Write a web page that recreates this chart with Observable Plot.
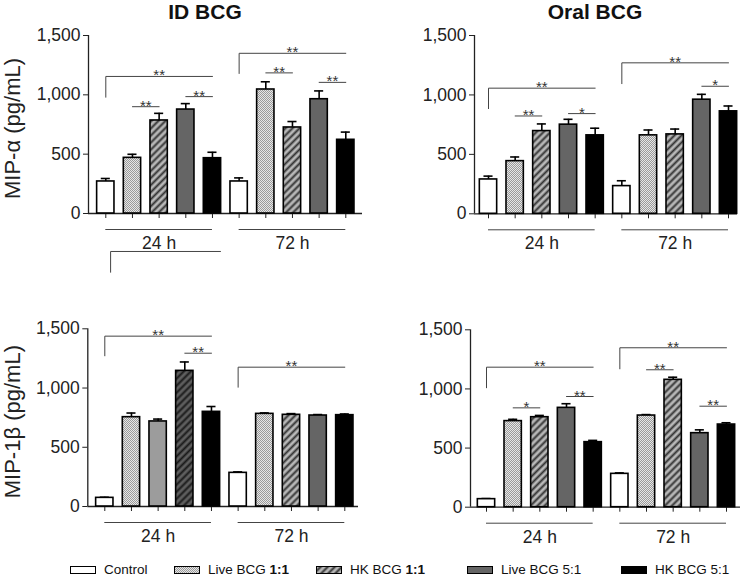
<!DOCTYPE html>
<html><head><meta charset="utf-8">
<script src="https://cdn.jsdelivr.net/npm/d3@7"></script>
<script src="https://cdn.jsdelivr.net/npm/@observablehq/plot@0.6"></script>
<style>
body{margin:0;background:#fff;}
#root{position:relative;width:750px;height:586px;overflow:hidden;font-family:"Liberation Sans",Arial,sans-serif;color:#222;background:#fff;}
.panel{position:absolute;}
.title{position:absolute;top:1px;font-weight:bold;font-size:21px;line-height:21px;transform:translateX(-50%);white-space:nowrap;color:#111;}
.leg{position:absolute;top:562px;display:flex;align-items:center;font-size:13.5px;line-height:16px;white-space:nowrap;color:#111;}
.sw{width:24px;height:6px;border:1.5px solid #000;margin-right:8px;}
</style></head>
<body><div id="root">
<svg width="0" height="0" style="position:absolute;left:0;top:0">
<defs>
<pattern id="dots" width="2" height="2" patternUnits="userSpaceOnUse"><rect width="2" height="2" fill="#e6e6e6"/><rect width="1" height="1" fill="#9a9a9a"/><rect x="1" y="1" width="1" height="1" fill="#9a9a9a"/></pattern>
<pattern id="hatch" width="5" height="5" patternUnits="userSpaceOnUse" patternTransform="rotate(45)"><rect width="5" height="5" fill="#b8b8b8"/><line x1="2.5" y1="0" x2="2.5" y2="5" stroke="#333" stroke-width="2"/></pattern>
<pattern id="hatchDark" width="5" height="5" patternUnits="userSpaceOnUse" patternTransform="rotate(45)"><rect width="5" height="5" fill="#5e5e5e"/><line x1="2.5" y1="0" x2="2.5" y2="5" stroke="#1a1a1a" stroke-width="2"/></pattern>
</defs></svg>
</div>
<script>
// ---------- data ----------
const conditions = ["Control", "Live BCG 1:1", "HK BCG 1:1", "Live BCG 5:1", "HK BCG 5:1"];
const times = ["24 h", "72 h"];
const yTicks = [0, 500, 1000, 1500];
const panelTitles = ["ID BCG", "Oral BCG"];
const yLabels = ["MIP-\u03b1 (pg/mL)", "MIP-1\u03b2 (pg/mL)"];

// bar order: 24 h (5 conditions) then 72 h (5 conditions)
const idAlphaMean   = [270, 469, 784, 876, 466, 270, 1045, 725, 963, 621];
const idAlphaErr    = [25, 30, 60, 50, 50, 30, 65, 50, 70, 65];
const oralAlphaMean = [289, 443, 696, 750, 660, 233, 660, 668, 960, 862];
const oralAlphaErr  = [28, 35, 60, 45, 60, 45, 45, 45, 45, 45];
const idBetaMean    = [73, 754, 718, 1145, 799, 284, 782, 774, 768, 771];
const idBetaErr     = [5, 35, 20, 75, 45, 8, 8, 10, 8, 10];
const oralBetaMean  = [68, 728, 761, 840, 550, 282, 775, 1077, 626, 699];
const oralBetaErr   = [5, 15, 15, 35, 15, 8, 8, 22, 28, 15];

// significance brackets: [from bar, to bar, bracket level, left leg end (or null), stars]
const idAlphaSig = [[0,4,1155,980,"**"],[1,2,900,null,"**"],[3,4,985,null,"**"],[5,9,1350,1180,"**"],[6,7,1185,null,"**"],[8,9,1105,null,"**"]];
const oralAlphaSig = [[0,4,1057,885,"**"],[1,2,823,null,"**"],[3,4,843,null,"*"],[5,9,1270,1095,"**"],[8,9,1073,null,"*"]];
const idBetaSig = [[0,4,1438,1272,"**"],[3,4,1294,null,"**"],[5,9,1176,1007,"**"]];
const oralBetaSig = [[0,4,1184,1010,"**"],[1,2,840,null,"*"],[3,4,936,null,"**"],[5,9,1348,1170,"**"],[6,7,1162,null,"**"],[8,9,854,null,"**"]];
// stray bracket drawn below the 24 h label in the first panel: [from, to, level, leg end]
const idAlphaStray = [[0.18, 4.3, -320, -495]];

// ---------- layout / style ----------
const condFill = ["#ffffff", "url(#dots)", "url(#hatch)", "#656565", "#000000"];
const panels = [
  {mean: idAlphaMean, err: idAlphaErr, sig: idAlphaSig, stray: idAlphaStray, title: panelTitles[0], ylabel: yLabels[0],
   left: 0, top: 0, h: 290, axL: 88, axR: 362, c0: 105.3, c9: 345.3, yTop: 35, y0: 213, titleX: 205},
  {mean: oralAlphaMean, err: oralAlphaErr, sig: oralAlphaSig, stray: [], title: panelTitles[1], ylabel: null,
   left: 375, top: 0, h: 290, axL: 99, axR: 362, c0: 113, c9: 353, yTop: 35, y0: 213.3, titleX: 595},
  {mean: idBetaMean, err: idBetaErr, sig: idBetaSig, stray: [], title: null, ylabel: yLabels[1], special: true,
   left: 0, top: 290, h: 270, axL: 87.3, axR: 358, c0: 104.3, c9: 344.3, yTop: 38.3, y0: 216},
  {mean: oralBetaMean, err: oralBetaErr, sig: oralBetaSig, stray: [], title: null, ylabel: null,
   left: 375, top: 290, h: 270, axL: 95, axR: 365, c0: 111, c9: 351, yTop: 39.3, y0: 216.7}
];
const W = 375;
const root = document.getElementById("root");

function fillFor(p, i) {
  if (p.special && i === 2) return "#9c9c9c";
  if (p.special && i === 3) return "url(#hatchDark)";
  return condFill[i % 5];
}

for (const p of panels) {
  const step = (p.c9 - p.c0) / 9;
  const xLeft = (p.axL - p.c0) / step;
  const bars = p.mean.map((m, i) => ({i, mean: m, top: m + p.err[i], fill: fillFor(p, i)}));
  const sigs = p.sig.map(([a, b, y, leg, s], k) => ({k, a, b, y, leg, s}));
  const segs = [];
  sigs.forEach(d => {
    if (d.leg != null) segs.push({k: "s" + d.k, x: d.a, y: d.leg});
    segs.push({k: "s" + d.k, x: d.a, y: d.y});
    segs.push({k: "s" + d.k, x: d.b, y: d.y});
  });
  p.stray.forEach(([a, b, y, leg], k) => {
    segs.push({k: "t" + k, x: a, y: leg});
    segs.push({k: "t" + k, x: a, y: y});
    segs.push({k: "t" + k, x: b, y: y});
  });
  const groups = times.map((t, g) => ({label: t, x1: g * 5, x2: g * 5 + 4, mid: g * 5 + 2}));

  const marks = [
    Plot.axisY({ticks: yTicks, tickFormat: d3.format(","), tickSize: 5, tickPadding: 3, label: null, fontSize: 17.5}),
    Plot.axisX({ticks: d3.range(10), tickFormat: () => "", tickSize: 5, label: null}),
    Plot.ruleX([xLeft], {y1: 0, y2: 1500, stroke: "#222", strokeWidth: 1.3}),
    Plot.ruleY([0], {stroke: "#222", strokeWidth: 1.3}),
    Plot.ruleX(bars, {x: "i", y1: "mean", y2: "top", stroke: "#000", strokeWidth: 1.6}),
    Plot.ruleY(bars, {x1: d => d.i - 0.17, x2: d => d.i + 0.17, y: "top", stroke: "#000", strokeWidth: 1.6}),
    Plot.rect(bars, {x1: d => d.i - 0.325, x2: d => d.i + 0.325, y1: 0, y2: "mean", fill: "fill", stroke: "#000", strokeWidth: 1.6}),
    Plot.line(segs, {x: "x", y: "y", z: "k", stroke: "#444", strokeWidth: 1}),
    Plot.text(sigs, {x: d => (d.a + d.b) / 2, y: "y", text: "s", lineAnchor: "bottom", dy: 4, fontSize: 15, fill: "#333"}),
    Plot.ruleY(groups, {x1: "x1", x2: "x2", y: 0, dy: 16, stroke: "#444", strokeWidth: 1}),
    Plot.text(groups, {x: "mid", y: 0, dy: 30, text: "label", fontSize: 17.5, fill: "#222"})
  ];
  if (p.ylabel) {
    marks.push(Plot.text([p.ylabel], {frameAnchor: "left", textAnchor: "middle", rotate: -90, dx: 12 - p.axL, dy: 4, text: d => d, fontSize: 22, fill: "#222"}));
  }

  const svg = Plot.plot({
    width: W, height: p.h,
    marginLeft: p.axL, marginRight: W - p.axR, marginTop: p.yTop, marginBottom: p.h - p.y0,
    x: {domain: [0, 9], range: [p.c0, p.c9]},
    y: {domain: [0, 1500]},
    color: {type: "identity"},
    style: {fontFamily: "'Liberation Sans', Arial, sans-serif", fontSize: "17.5px", color: "#222", background: "transparent", overflow: "visible"},
    marks
  });
  const div = document.createElement("div");
  div.className = "panel";
  div.style.left = p.left + "px";
  div.style.top = p.top + "px";
  div.appendChild(svg);
  root.appendChild(div);

  if (p.title) {
    const t = document.createElement("div");
    t.className = "title";
    t.style.left = p.titleX + "px";
    t.textContent = p.title;
    root.appendChild(t);
  }
}

// ---------- legend ----------
const legendLeft = [70, 174, 316, 467, 621];
const boldSuffix = [false, true, true, false, false];
conditions.forEach((c, i) => {
  const item = document.createElement("div");
  item.className = "leg";
  item.style.left = legendLeft[i] + "px";
  const sw = document.createElement("div");
  sw.className = "sw";
  sw.innerHTML = `<svg width="24" height="6" style="display:block"><rect width="24" height="6" fill="${condFill[i]}"/></svg>`;
  item.appendChild(sw);
  const lab = document.createElement("span");
  const m = c.match(/^(.*?)(\d:\d)?$/);
  const pre = document.createElement("span");
  pre.textContent = m[2] ? m[1] : c;
  lab.appendChild(pre);
  if (m[2]) {
    const suf = document.createElement("span");
    suf.textContent = m[2];
    if (boldSuffix[i]) suf.style.fontWeight = "bold";
    lab.appendChild(suf);
  }
  item.appendChild(lab);
  root.appendChild(item);
});
</script>
</body></html>
